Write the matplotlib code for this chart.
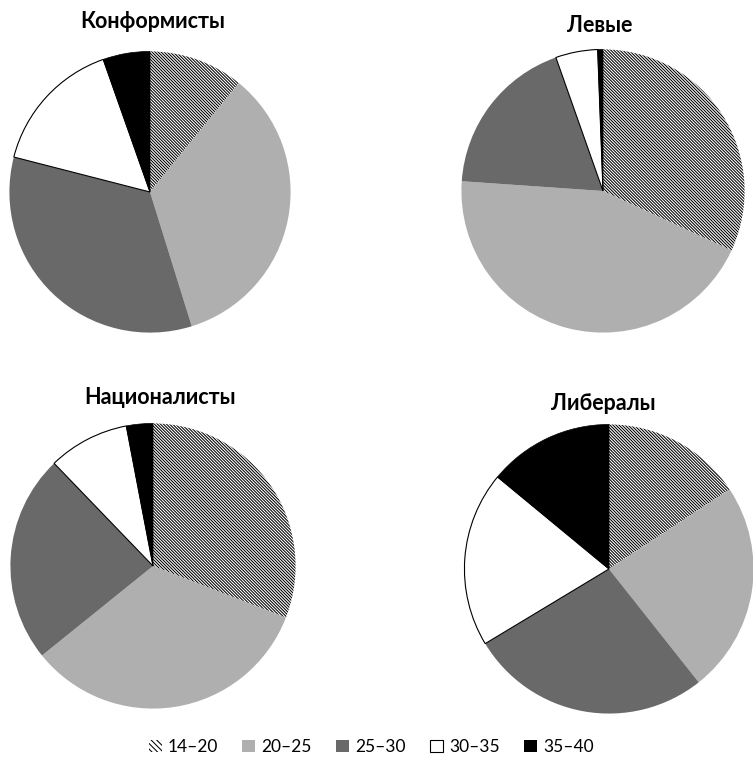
import matplotlib.pyplot as plt
from matplotlib.patches import Patch

# age groups and shares (%) per party group
age_groups = ["14–20", "20–25", "25–30", "30–35", "35–40"]
conformists = [10.9, 34.3, 33.8, 15.6, 5.4]
leftists = [31.9, 44.2, 18.5, 4.8, 0.6]
nationalists = [30.9, 33.3, 23.6, 9.2, 3.0]
liberals = [15.7, 23.6, 27.0, 19.6, 14.0]
titles = ["Конформисты", "Левые", "Националисты", "Либералы"]

plt.rcParams['font.family'] = ['Lato', 'DejaVu Sans']
plt.rcParams['hatch.linewidth'] = 0.75

W, H = 753, 757
fig = plt.figure(figsize=(W / 100, H / 100), dpi=100)

fills = ['white', '#afafaf', '#696969', 'white', 'black']
hatches = ['\\' * 11, None, None, None, None]
edges = ['black', '#afafaf', '#696969', 'black', 'black']
widths = [0, 0, 0, 0.8, 0.5]

# pie centre (px), radius (px), title position (px)
layout = [
    ((150, 192), 142, (153, 22)),
    ((603, 191), 143, (600, 25)),
    ((153, 566), 144, (160, 398)),
    ((609, 569), 146, (603, 403)),
]

for vals, title, ((cx, cy), r, (tx, ty)) in zip(
        [conformists, leftists, nationalists, liberals], titles, layout):
    ax = fig.add_axes([(cx - r) / W, 1 - (cy + r) / H, 2 * r / W, 2 * r / H])
    wedges, _ = ax.pie(vals, startangle=90, counterclock=False, radius=1,
                       colors=fills)
    for w, h, ec, lw in zip(wedges, hatches, edges, widths):
        w.set_edgecolor(ec)
        w.set_linewidth(lw)
        if h:
            w.set_hatch(h)
    ax.set_xlim(-1.01, 1.01)
    ax.set_ylim(-1.01, 1.01)
    ax.set_aspect('equal')
    ax.axis('off')
    fig.text(tx / W, 1 - ty / H, title, ha='center', va='center',
             fontsize=15.5, fontweight='bold')

handles = [Patch(facecolor=f, edgecolor=e, hatch=('\\' * 6 if h else None),
                 linewidth=0.8 if i == 3 else 0)
           for i, (f, e, h) in enumerate(zip(fills, edges, hatches))]
fig.legend(handles, age_groups, loc='center', bbox_to_anchor=(0.493, 1 - 747 / H),
           ncol=5, frameon=False, fontsize=12.5, handlelength=0.75,
           handleheight=0.75, handletextpad=0.35, columnspacing=1.4)

fig.savefig('out.png', dpi=100)
